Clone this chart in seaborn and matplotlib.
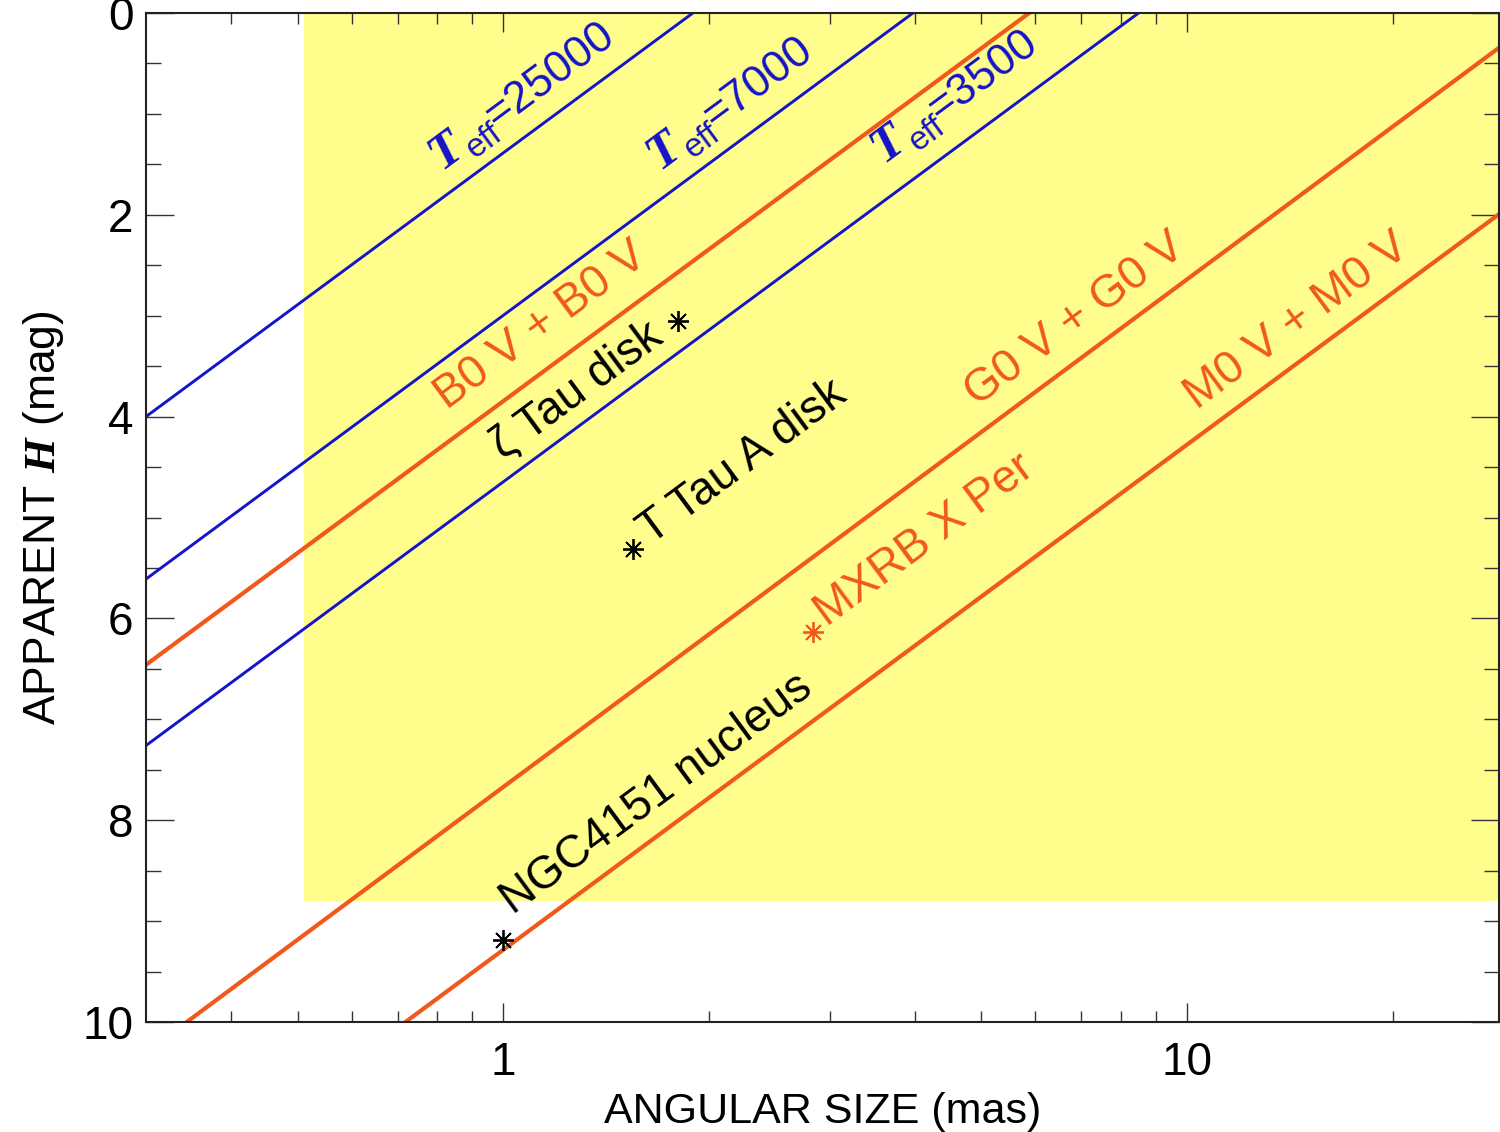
import numpy as np
import pandas as pd
import seaborn as sns
import matplotlib.pyplot as plt
from matplotlib.patches import Rectangle
from matplotlib.ticker import FixedLocator, NullFormatter, FixedFormatter

# Lines of constant surface brightness: apparent H read at 0.3 mas and at 30 mas
line_names = ['Teff=25000', 'Teff=7000', 'B0V+B0V', 'Teff=3500', 'G0V+G0V', 'M0V+M0V']
line_kind = ['teff', 'teff', 'pair', 'teff', 'pair', 'pair']
size_ends = [0.3, 30.0]
mag_at_left = [4.00, 5.61, 6.46, 7.26, 10.30, 11.90]
mag_at_right = [-6.00, -4.39, -3.54, -2.74, 0.24, 1.89]

# Teff labels (lower left of the T) and values
teff_values = ['=25000', '=7000', '=3500']
teff_label_x = [0.81, 1.69, 3.60]
teff_label_y = [1.556, 1.556, 1.487]

# pair labels
pair_labels = ['B0 V + B0 V', 'G0 V + G0 V', 'M0 V + M0 V']
pair_label_x = [0.828, 4.93, 10.34]
pair_label_y = [3.93, 3.90, 3.93]

# objects
obj_names = ['\u03b6 Tau disk', 'T Tau A disk', 'MXRB X Per', 'NGC4151 nucleus']
obj_size = [1.80, 1.545, 2.84, 1.0]
obj_mag = [3.05, 5.31, 6.13, 9.19]
obj_kind = ['black', 'black', 'orange', 'black']
obj_label_x = [1.0, 1.646, 2.977, 1.031]
obj_label_y = [4.43, 5.27, 6.085, 8.94]

# observable region
box_size = [0.51, 60.0]
box_mag = [0.0, 8.8]

blue = '#1414c8'
orange = '#f0581c'
colors = {'teff': blue, 'pair': orange, 'black': 'black', 'orange': orange}
widths = {'teff': 2.1, 'pair': 3.0}

sns.set_style('ticks')
plt.rcParams['font.family'] = ['Liberation Sans', 'DejaVu Sans']
plt.rcParams['text.color'] = 'black'
plt.rcParams['axes.labelcolor'] = 'black'
plt.rcParams['xtick.color'] = 'black'
plt.rcParams['ytick.color'] = 'black'
plt.rcParams['mathtext.fontset'] = 'custom'
plt.rcParams['mathtext.rm'] = 'Liberation Sans'
plt.rcParams['mathtext.bfit'] = 'Liberation Serif:italic:bold'

fig = plt.figure(figsize=(15, 11.32), dpi=100)
ax = fig.add_axes([146 / 1500, 1 - 1022 / 1132, (1499 - 146) / 1500, (1022 - 13) / 1132])

ax.add_patch(Rectangle((box_size[0], box_mag[0]), box_size[1] - box_size[0],
                       box_mag[1] - box_mag[0], color='#fffd8c', lw=0, zorder=0))

for i, name in enumerate(line_names):
    df = pd.DataFrame({'size': size_ends, 'mag': [mag_at_left[i], mag_at_right[i]]})
    sns.lineplot(data=df, x='size', y='mag', ax=ax, color=colors[line_kind[i]],
                 lw=widths[line_kind[i]], zorder=2)

ax.set_xscale('log')
ax.set_xlim(0.3, 28.6)
ax.set_ylim(10, 0)

# angle of the lines on screen
p = ax.transData.transform([[1.0, 5.0], [10.0, 0.0]])
angle = np.degrees(np.arctan2(p[1, 1] - p[0, 1], p[1, 0] - p[0, 0]))
ca, sa = np.cos(np.radians(angle)), np.sin(np.radians(angle))


def piece(x, y, txt, u, v, color, size, **kw):
    # u along the line, v across it, both in points
    ax.annotate(txt, xy=(x, y), xytext=(u * ca - v * sa, u * sa + v * ca),
                textcoords='offset points', color=color, fontsize=size,
                rotation=angle, rotation_mode='anchor', ha='left', va='baseline',
                zorder=3, **kw)


for i, val in enumerate(teff_values):
    piece(teff_label_x[i], teff_label_y[i], 'T', 0, 0, blue, 36,
          family='Liberation Serif', weight='bold', style='italic')
    piece(teff_label_x[i], teff_label_y[i], 'eff', 24, -8, blue, 24)
    piece(teff_label_x[i], teff_label_y[i], val, 50, 0, blue, 32)

for i, txt in enumerate(pair_labels):
    piece(pair_label_x[i], pair_label_y[i], txt, 0, 0, orange, 33)

for i, txt in enumerate(obj_names):
    c = colors[obj_kind[i]]
    ax.plot(obj_size[i], obj_mag[i], ls='none', marker=(8, 2, 0), ms=15, mew=1.3,
            color=c, zorder=4)
    piece(obj_label_x[i], obj_label_y[i], txt, 0, 0, c, 33)

ax.xaxis.set_major_locator(FixedLocator([1, 10]))
ax.xaxis.set_major_formatter(FixedFormatter(['1', '10']))
ax.xaxis.set_minor_locator(FixedLocator([0.4, 0.5, 0.6, 0.7, 0.8, 0.9,
                                         2, 3, 4, 5, 6, 7, 8, 9, 20]))
ax.xaxis.set_minor_formatter(NullFormatter())
ax.set_yticks([0, 2, 4, 6, 8, 10])
ax.set_yticks(np.arange(0, 10.01, 0.5), minor=True)

ax.tick_params(axis='both', which='both', direction='in', top=True, right=True,
               labelsize=33, width=1.0, color='#333333')
ax.tick_params(axis='x', which='major', length=14, pad=14)
ax.tick_params(axis='x', which='minor', length=8)
ax.tick_params(axis='y', which='major', length=20, pad=9)
ax.tick_params(axis='y', which='minor', length=11)
for s in ax.spines.values():
    s.set_linewidth(1.5)
    s.set_color('#222222')

ax.set_xlabel('ANGULAR SIZE (mas)', fontsize=31, labelpad=5)
ax.set_ylabel(r'APPARENT $\mathbfit{H}$ (mag)', fontsize=32, labelpad=12)

fig.savefig('out.png', dpi=100)
